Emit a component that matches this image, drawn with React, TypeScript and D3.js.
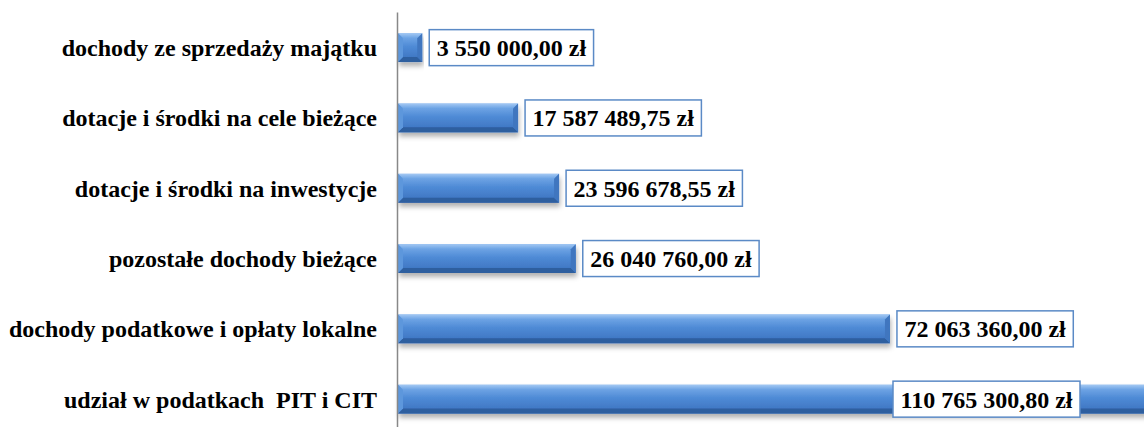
import React, { useRef, useEffect } from "react";
import * as d3 from "d3";

const categories = [
    "dochody ze sprzedaży majątku",
    "dotacje i środki na cele bieżące",
    "dotacje i środki na inwestycje",
    "pozostałe dochody bieżące",
    "dochody podatkowe i opłaty lokalne",
    "udział w podatkach  PIT i CIT",
];
const values = [3550000.0, 17587489.75, 23596678.55, 26040760.0, 72063360.0, 110765300.8];
const valueLabels = [
    "3 550 000,00 zł",
    "17 587 489,75 zł",
    "23 596 678,55 zł",
    "26 040 760,00 zł",
    "72 063 360,00 zł",
    "110 765 300,80 zł",
];

const App = () => {
    const svgRef = useRef(null);

    useEffect(() => {
        const width = 1144;
        const height = 427;
        const axisX = 398;
        const font = "'Liberation Serif', 'Times New Roman', serif";

        const svg = d3.select(svgRef.current).attr("width", width).attr("height", height);
        svg.selectAll("*").remove();

        const defs = svg.append("defs");
        const grad = defs.append("linearGradient").attr("id", "barGrad").attr("x1", 0).attr("y1", 0).attr("x2", 0).attr("y2", 1);
        grad.append("stop").attr("offset", "0%").attr("stop-color", "#7fb1ec");
        grad.append("stop").attr("offset", "45%").attr("stop-color", "#4f8bd6");
        grad.append("stop").attr("offset", "100%").attr("stop-color", "#3a70bd");
        const topGrad = defs.append("linearGradient").attr("id", "topGrad").attr("x1", 0).attr("y1", 0).attr("x2", 0).attr("y2", 1);
        topGrad.append("stop").attr("offset", "0%").attr("stop-color", "#a3c8f3");
        topGrad.append("stop").attr("offset", "100%").attr("stop-color", "#6aa2e4");
        const shadow = defs.append("filter").attr("id", "shadow").attr("x", "-5%").attr("y", "-20%").attr("width", "110%").attr("height", "160%");
        shadow.append("feDropShadow").attr("dx", 1).attr("dy", 4).attr("stdDeviation", 2.5).attr("flood-color", "#000").attr("flood-opacity", 0.3);

        const x = d3.scaleLinear().domain([0, 120000000]).range([axisX, axisX + 819.2]);
        const y = d3.scaleBand().domain(categories).range([12.5, 434.3]).paddingInner(0.59).paddingOuter(0.295);

        // category labels
        svg.append("g")
            .selectAll("text")
            .data(categories)
            .enter()
            .append("text")
            .attr("x", axisX - 21)
            .attr("y", (d) => (y(d) as number) + y.bandwidth() / 2)
            .attr("dy", "0.35em")
            .attr("text-anchor", "end")
            .attr("font-family", font)
            .attr("font-weight", "bold")
            .attr("font-size", 24)
            .attr("fill", "#000")
            .style("white-space", "pre")
            .text((d) => d);

        // bars
        const bh = y.bandwidth();
        const bev = 5;
        const bars = svg.append("g").selectAll("g").data(values).enter().append("g").attr("filter", "url(#shadow)");
        bars.each(function (v, i) {
            const g = d3.select(this);
            const x0 = axisX;
            const x1 = x(v);
            const y0 = y(categories[i]) as number;
            const y1 = y0 + bh;
            g.append("rect").attr("x", x0).attr("y", y0).attr("width", x1 - x0).attr("height", bh).attr("fill", "url(#barGrad)");
            // top bevel
            g.append("polygon")
                .attr("points", `${x0},${y0} ${x1},${y0} ${x1 - bev},${y0 + bev} ${x0 + bev},${y0 + bev}`)
                .attr("fill", "url(#topGrad)");
            // bottom bevel
            g.append("polygon")
                .attr("points", `${x0},${y1} ${x1},${y1} ${x1 - bev},${y1 - bev} ${x0 + bev},${y1 - bev}`)
                .attr("fill", "#2f5e9f");
            // right bevel
            g.append("polygon")
                .attr("points", `${x1},${y0} ${x1},${y1} ${x1 - bev},${y1 - bev} ${x1 - bev},${y0 + bev}`)
                .attr("fill", "#3f76bf");
            // left bevel
            g.append("polygon")
                .attr("points", `${x0},${y0} ${x0},${y1} ${x0 + bev},${y1 - bev} ${x0 + bev},${y0 + bev}`)
                .attr("fill", "#5d97dc");
        });

        // axis line
        svg.append("line")
            .attr("x1", axisX - 0.5)
            .attr("x2", axisX - 0.5)
            .attr("y1", 12.5)
            .attr("y2", height)
            .attr("stroke", "#888")
            .attr("stroke-width", 1.5);

        // value labels
        const labels = svg.append("g");
        values.forEach((v, i) => {
            const g = labels.append("g");
            const cy = (y(categories[i]) as number) + bh / 2;
            const t = g
                .append("text")
                .attr("y", cy)
                .attr("dy", "0.35em")
                .attr("font-family", font)
                .attr("font-weight", "bold")
                .attr("font-size", 24)
                .attr("fill", "#000")
                .text(valueLabels[i]);
            const tw = (t.node() as SVGTextElement).getComputedTextLength();
            const bw = tw + 15;
            let bx = x(v) + 7;
            if (bx + bw > width) bx = width - 64 - bw;
            g.insert("rect", "text")
                .attr("x", bx)
                .attr("y", cy - 18)
                .attr("width", bw)
                .attr("height", 36)
                .attr("fill", "#fff")
                .attr("stroke", "#5b8ac6")
                .attr("stroke-width", 1.5);
            t.attr("x", bx + bw / 2).attr("text-anchor", "middle");
        });
    }, []);

    return <svg ref={svgRef} style={{ position: "absolute", left: 0, top: 0 }}></svg>;
};

export default App;
